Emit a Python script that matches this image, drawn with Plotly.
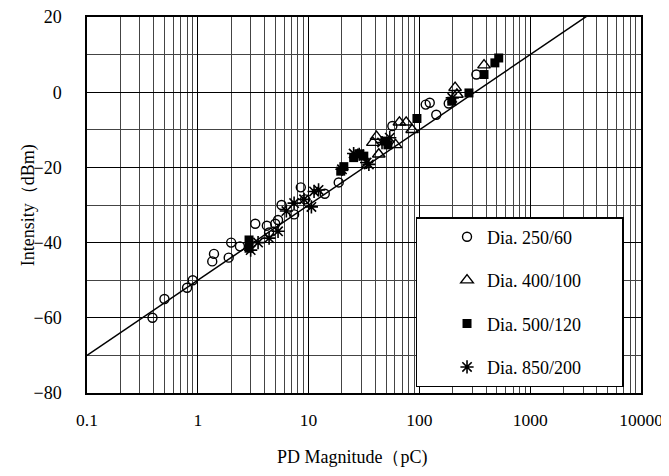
import plotly.graph_objects as go
import math

# ---- data ----
c_x = [0.39, 0.5, 0.8, 0.9, 1.35, 1.4, 1.9, 2.0, 2.4, 3.3, 4.2, 4.4, 5.0, 5.3, 5.7,
       7.4, 8.5, 9.3, 14, 18.7, 57, 114, 124, 142, 184, 327]
c_y = [-60, -55, -52, -50, -45, -43, -44, -40, -41, -35, -35.5, -37.3, -35, -34, -30,
       -32.5, -25.3, -28.5, -27, -24, -9, -3.3, -2.8, -6, -3, 4.7]

t_x = [38, 41, 43, 61, 66, 76, 86, 210, 218, 383]
t_y = [-13.4, -11.8, -16.5, -14, -8, -8, -10, 1.2, -0.6, 7.2]

s_x = [2.9, 2.9, 19.5, 20.8, 25.5, 29, 31.5, 49, 52, 95, 196, 280, 383, 480, 520]
s_y = [-39.3, -41.5, -21, -19.8, -17.4, -16.4, -17, -13, -14, -7, -2.4, -0.2, 4.7, 7.8, 9.1]

a_x = [3.0, 3.5, 4.4, 5.3, 6.3, 7.4, 9.1, 10.6, 11.2, 12.3, 20, 25.5, 28.6, 33.4, 35, 46, 54, 198]
a_y = [-42, -40, -38.8, -37, -31.6, -29.5, -28.5, -30.5, -26.4, -26, -20.5, -16.3, -16.5,
       -18.7, -19.2, -13.4, -12.1, -1.5]

series_names = ["Dia. 250/60", "Dia. 400/100", "Dia. 500/120", "Dia. 850/200"]

# fitted line: Intensity = 20*log10(Q) - 50
fit_x = [0.1, 3900]
fit_slope = 20
fit_icpt = -50

x_ticks = [0.1, 1, 10, 100, 1000, 10000]
x_ticktext = ["0.1", "1", "10", "100", "1000", "10000"]
y_ticks = [-80, -60, -40, -20, 0, 20]

fit_y = [fit_slope * math.log10(v) + fit_icpt for v in fit_x]
minor_x = [m * 10 ** e for e in range(-1, 4) for m in range(2, 10)]

FONT = "Liberation Serif, Times New Roman, serif"
PAD = "\u00a0" * 8

fig = go.Figure()
fig.add_trace(go.Scatter(x=fit_x, y=fit_y, mode="lines", line=dict(color="black", width=1.5),
                         showlegend=False, hoverinfo="skip"))
fig.add_trace(go.Scatter(x=c_x, y=c_y, mode="markers", name=series_names[0] + PAD, legendgroup="a",
                         marker=dict(symbol="circle-open", size=9, color="black", line=dict(width=1.4))))
fig.add_trace(go.Scatter(x=t_x, y=t_y, mode="markers", name=series_names[1] + PAD, legendgroup="b",
                         marker=dict(symbol="triangle-up-open", size=11, color="black", line=dict(width=1.4))))
fig.add_trace(go.Scatter(x=s_x, y=s_y, mode="markers", name=series_names[2] + PAD, legendgroup="c",
                         marker=dict(symbol="square", size=9, color="black", line=dict(width=0))))
fig.add_trace(go.Scatter(x=a_x, y=a_y, mode="markers", name=series_names[3] + PAD, legendgroup="d",
                         marker=dict(symbol="asterisk-open", size=11, color="black", line=dict(width=1.6))))

fig.update_layout(
    width=661, height=460,
    margin=dict(l=79, r=28, t=9, b=75, autoexpand=False),
    paper_bgcolor="white", plot_bgcolor="white",
    font=dict(family=FONT, size=18, color="black"),
    showlegend=True,
    legend=dict(x=0.593, y=0.468, xanchor="left", yanchor="top",
                bgcolor="white", bordercolor="black", borderwidth=1.5,
                font=dict(family=FONT, size=18, color="black"),
                tracegroupgap=17, indentation=30),
    annotations=[
        dict(text="Intensity（dBm)", xref="paper", yref="paper",
             x=-0.106, y=0.5, xanchor="center", yanchor="middle",
             textangle=-90, showarrow=False,
             font=dict(family=FONT, size=18, color="black")),
        dict(text="PD Magnitude（pC)", xref="paper", yref="paper",
             x=0.48, y=-0.172, xanchor="center", yanchor="middle",
             showarrow=False, font=dict(family=FONT, size=18, color="black")),
    ],
)
fig.update_xaxes(type="log", range=[-1, 4], tickvals=x_ticks, ticktext=x_ticktext,
                 automargin=False, ticklabelstandoff=10, ticklabeloverflow="allow",
                 tickfont=dict(size=17.5),
                 showgrid=True, gridcolor="black", gridwidth=1,
                 minor=dict(tickvals=minor_x, showgrid=True, gridcolor="#444", gridwidth=1, ticks=""),
                 showline=True, linecolor="black", linewidth=1.5, mirror=True,
                 ticks="", ticklen=0, zeroline=False)
fig.update_yaxes(range=[-80, 20], tickvals=y_ticks, automargin=False, ticklabelstandoff=20,
                 ticklabeloverflow="allow",
                 showgrid=True, gridcolor="black", gridwidth=1,
                 minor=dict(dtick=10, showgrid=True, gridcolor="#444", gridwidth=1, ticks=""),
                 showline=True, linecolor="black", linewidth=1.5, mirror=True,
                 ticks="", zeroline=False)

fig.write_html("out.html")
